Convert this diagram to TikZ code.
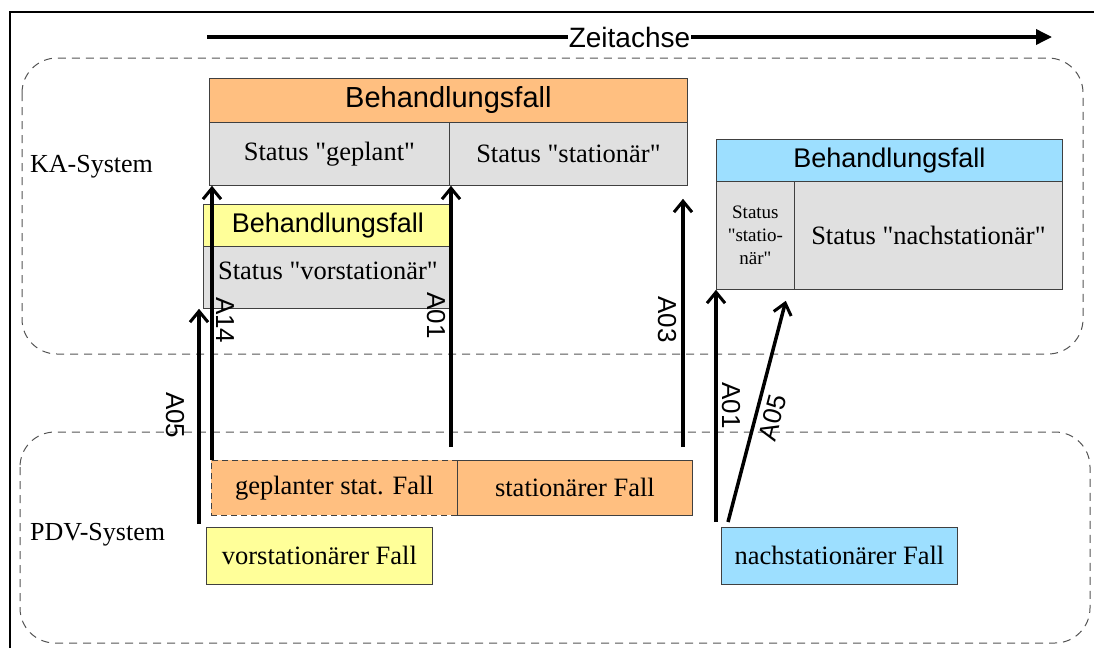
\documentclass[tikz,border=0pt]{standalone}
\usepackage{fontspec}
\setmainfont{Liberation Serif}[Ligatures=TeXOff]
\setsansfont{Liberation Sans}[Ligatures=TeXOff]
\usetikzlibrary{arrows.meta,calc}
\definecolor{caseorange}{HTML}{FFBF80}
\definecolor{caseyellow}{HTML}{FFFF99}
\definecolor{caseblue}{HTML}{9DDFFF}
\definecolor{cellgray}{HTML}{E0E0E0}
\definecolor{edgegray}{HTML}{404040}
\definecolor{framegray}{HTML}{555555}

\begin{document}
\begin{tikzpicture}[x=1pt,y=-1pt,
  cell/.style={draw=edgegray, line width=0.8pt, anchor=north west, inner sep=0pt, align=center},
  hdr/.style={cell, font=\sffamily\fontsize{27}{30}\selectfont},
  stat/.style={cell, fill=cellgray, font=\fontsize{26.5}{30}\selectfont},
  pdvcase/.style={cell, font=\fontsize{26.5}{30}\selectfont},
  sysframe/.style={draw=framegray, line width=1pt, dash pattern=on 8pt off 6pt, rounded corners=35pt},
  syslabel/.style={anchor=west, inner sep=0pt, font=\fontsize{26}{30}\selectfont},
  msg/.style={line width=3.5pt, -{Straight Barb[length=11pt,width=18pt,line width=3pt]}},
  msgtext/.style={inner sep=0pt, font=\sffamily\fontsize{26}{30}\selectfont},
  msglabel/.style={msgtext, rotate=-90},
]
\useasboundingbox (0,0) rectangle (1094,648);
\fill[white] (0,0) rectangle (1094,648);

% outer frame (left and top edges)
\draw[line width=2pt] (10,648) -- (10,12) -- (1094,12);

% system areas
\draw[sysframe] (22,58) rectangle (1083,354);
\draw[sysframe] (20,432) rectangle (1090,643);
\node[syslabel] (ka) at (30,167) {KA-System};
\node[syslabel] (pdv) at (30,535) {PDV-System};

% time axis
\coordinate (t0) at (207,37);
\coordinate (t1) at (1052,37);
\draw[line width=3.5pt, -{Triangle[length=16pt,width=15pt]}] (t0) --
  node[fill=white, inner xsep=1pt, inner ysep=0pt, font=\sffamily\fontsize{28}{30}\selectfont] (zt) {Zeitachse} (t1);

% KA: stationary case
\node[hdr, fill=caseorange, minimum width=478pt, minimum height=44pt, font=\sffamily\fontsize{29}{30}\selectfont] (bfA) at (209,78) {Behandlungsfall};
\node[stat, minimum width=240pt, minimum height=63pt] (sgA) at (209,122) {Status "geplant"};
\node[stat, minimum width=238pt, minimum height=63pt] (ssA) at (449,122) {Status "stationär"};

% KA: pre-stationary case
\node[hdr, fill=caseyellow, minimum width=249pt, minimum height=42pt] (bfB) at (203,204) {Behandlungsfall};
\node[stat, minimum width=249pt, minimum height=62pt, text depth=14pt] (svB) at (203,246) {Status "vorstationär"};

% KA: post-stationary case
\node[hdr, fill=caseblue, minimum width=346pt, minimum height=42pt] (bfC) at (716,139) {Behandlungsfall};
\node[stat, minimum width=78pt, minimum height=108pt, font=\fontsize{19}{23}\selectfont] (stC) at (716,181) {Status\\"statio-\\när"};
\node[stat, minimum width=268pt, minimum height=108pt] (snC) at (794,181) {Status "nachstationär"};

% PDV cases
\node[pdvcase, fill=caseorange, dash pattern=on 6pt off 4pt, minimum width=246pt, minimum height=55pt] (pg) at (211,460) {geplanter stat. Fall};
\node[pdvcase, fill=caseorange, minimum width=235pt, minimum height=55pt] (ps) at (457,460) {stationärer Fall};
\node[pdvcase, fill=caseyellow, minimum width=226pt, minimum height=57pt] (pv) at (206,527) {vorstationärer Fall};
\node[pdvcase, fill=caseblue, minimum width=236pt, minimum height=57pt] (pn) at (721,527) {nachstationärer Fall};

% messages
\coordinate (f05) at (199,524);
\coordinate (f14) at (212,460);
\coordinate (f01) at (451,447);
\coordinate (f03) at (683,447);
\coordinate (f01b) at (716,522);
\coordinate (f05b) at (728,522);

\draw[msg] (f05) -- node[xshift=-24pt, pos=0.505, msglabel] (l05) {A05} (f05 |- svB.south);
\draw[msg] (f14) -- node[xshift=13pt, pos=0.51, msglabel] (l14) {A14} (f14 |- sgA.south);
\draw[msg] (f01) -- node[xshift=-15pt, pos=0.504, msglabel] (l01) {A01} (f01 |- sgA.south);
\draw[msg] (f03) -- node[xshift=-16pt, pos=0.514, msglabel] (l03) {A03} ($(f03 |- ssA.south)+(0,13)$);
\draw[msg] (f01b) -- node[xshift=15pt, pos=0.502, msglabel] (l01b) {A01} (f01b |- stC.south);
\draw[msg] (f05b) -- node[msgtext, pos=0.49, sloped, anchor=north, inner ysep=6pt] (l05b) {A05} ($(stC.south east)+(-9,11)$);
\end{tikzpicture}
\end{document}
